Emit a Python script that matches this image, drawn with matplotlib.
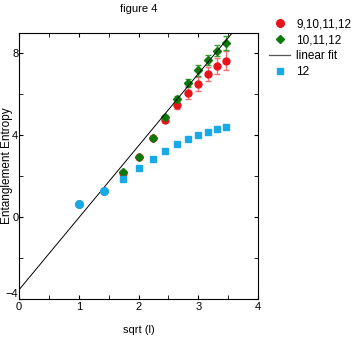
import numpy as np
import matplotlib
matplotlib.use("Agg")
import matplotlib.pyplot as plt
from matplotlib.ticker import MultipleLocator

plt.rcParams["font.family"] = ["Liberation Sans", "DejaVu Sans"]
plt.rcParams["font.size"] = 8

# sqrt(l) for l = 1..12
l_vals = np.arange(1, 13)
x_all = np.sqrt(l_vals)

# 9,10,11,12 fit (red)
red_y = [0.62, 1.26, 2.15, 2.94, 3.89, 4.75, 5.47, 6.09, 6.50, 7.01, 7.40, 7.65]
red_err = [0.0, 0.0, 0.05, 0.05, 0.08, 0.12, 0.2, 0.3, 0.34, 0.35, 0.38, 0.48]

# 10,11,12 fit (green)
green_y = [0.62, 1.26, 2.2, 2.94, 3.89, 4.89, 5.77, 6.54, 7.17, 7.70, 8.14, 8.51]
green_err = [0.0, 0.0, 0.05, 0.05, 0.08, 0.1, 0.15, 0.2, 0.25, 0.24, 0.28, 0.33]

# single size 12 (blue)
blue_y = [0.62, 1.26, 1.85, 2.42, 2.86, 3.25, 3.56, 3.81, 4.02, 4.17, 4.30, 4.41]

# linear fit through the extrapolated points
fit_x = [0, 4]
fit_y = [-3.55, 10.53]

fig = plt.figure(figsize=(3.54, 3.43), dpi=100)
ax = fig.add_axes([0.0537, 0.1283, 0.6755, 0.7755])

ax.errorbar(x_all, red_y, yerr=red_err, fmt="o", color="#e8141c", ecolor="#f07272",
            ms=5, capsize=2.5, elinewidth=1, capthick=1, zorder=2)
ax.errorbar(x_all, green_y, yerr=green_err, fmt="D", color="#0a7a0a", ecolor="#3a9a3a",
            ms=4.3, capsize=2.5, elinewidth=1, capthick=1, zorder=3)
ax.plot(fit_x, fit_y, color="black", lw=0.7, zorder=4)
ax.plot(x_all[2:], blue_y[2:], "s", color="#19a9e6", ms=4.3, zorder=5)
ax.plot(x_all[:2], blue_y[:2], "o", color="#19a9e6", ms=5.5, zorder=5)

ax.set_xlim(0, 4)
ax.set_ylim(-4, 9)
ax.xaxis.set_major_locator(MultipleLocator(1))
ax.xaxis.set_minor_locator(MultipleLocator(0.5))
ax.yaxis.set_major_locator(MultipleLocator(4))
ax.yaxis.set_minor_locator(MultipleLocator(2))
ax.tick_params(which="both", direction="in", top=True, right=True, length=3)
ax.tick_params(axis="x", pad=2.2)
ax.tick_params(axis="y", pad=0.5)

# lift the bottom y label so it clears the x "0"
fig.canvas.draw()
for lab in ax.get_yticklabels():
    if lab.get_position()[1] == -4:
        lab.set_va("bottom")

ax.set_title("figure 4", pad=15, fontsize=8)
ax.set_xlabel("sqrt (l)", labelpad=9)
fig.text(0.019, 0.5155, "Entanglement Entropy", rotation=90, ha="center", va="center",
         fontsize=8.5)

red_h = plt.Line2D([], [], ls="none", marker="o", color="#e8141c", ms=5.5)
green_h = plt.Line2D([], [], ls="none", marker="D", color="#0a7a0a", ms=4.5)
fit_h = plt.Line2D([], [], color="#555555", lw=0.9)
blue_h = plt.Line2D([], [], ls="none", marker="s", color="#19a9e6", ms=4.3)
ax.legend([red_h, green_h, fit_h, blue_h], ["9,10,11,12", "10,11,12", "linear fit", "12"],
          loc="upper left", bbox_to_anchor=(1.046, 1.056), frameon=False, fontsize=8.5,
          handlelength=1.8, handletextpad=0.5, labelspacing=0.35, borderpad=0,
          borderaxespad=0)

fig.savefig("out.png", dpi=100)
